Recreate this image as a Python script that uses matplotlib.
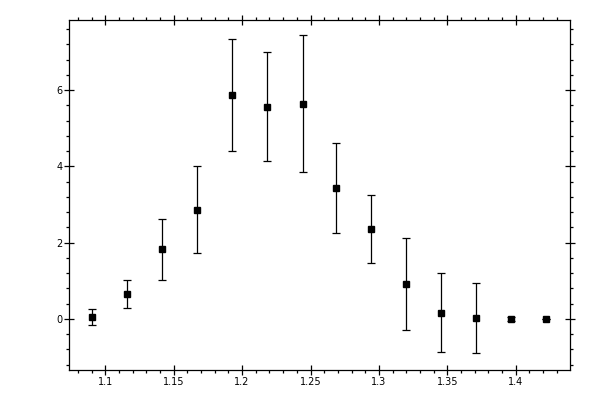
import matplotlib
matplotlib.use("Agg")
from matplotlib import pyplot as plt
from matplotlib.ticker import MultipleLocator

# data
x_vals = [1.0905, 1.1161, 1.1417, 1.1673, 1.1928, 1.2184, 1.2443,
          1.2689, 1.2944, 1.3200, 1.3456, 1.3712, 1.3968, 1.4224]
y_vals = [0.05, 0.65, 1.83, 2.86, 5.87, 5.56, 5.64,
          3.43, 2.36, 0.92, 0.16, 0.02, -0.01, 0.0]
y_err = [0.21, 0.37, 0.80, 1.14, 1.46, 1.43, 1.80,
         1.18, 0.89, 1.20, 1.04, 0.92, 0.05, 0.0]

x_ticks = [1.1, 1.15, 1.2, 1.25, 1.3, 1.35, 1.4]
x_ticklabels = ["1.1", "1.15", "1.2", "1.25", "1.3", "1.35", "1.4"]
y_ticks = [0, 2, 4, 6]
y_ticklabels = ["0", "2", "4", "6"]

fig = plt.figure(figsize=(6, 4), dpi=100)
ax = fig.add_axes([0.1158, 0.075, 0.8342, 0.876])

ax.errorbar(x_vals, y_vals, yerr=y_err, fmt="s", color="black",
            markersize=5, elinewidth=0.9, capsize=3, capthick=0.9)

ax.set_xlim(1.0738, 1.4397)
ax.set_ylim(-1.34, 7.85)

ax.set_xticks(x_ticks)
ax.set_xticklabels(x_ticklabels)
ax.set_yticks(y_ticks)
ax.set_yticklabels(y_ticklabels)
ax.xaxis.set_minor_locator(MultipleLocator(0.01))
ax.yaxis.set_minor_locator(MultipleLocator(0.4))

for side in ax.spines.values():
    side.set_linewidth(0.9)

ax.tick_params(which="major", direction="inout", length=6.5, width=0.9,
               top=True, right=True, labelsize=7, pad=2)
ax.tick_params(which="minor", direction="out", length=2.3, width=0.9,
               top=True, right=True)

fig.savefig("out.png", dpi=100)
plt.close(fig)
